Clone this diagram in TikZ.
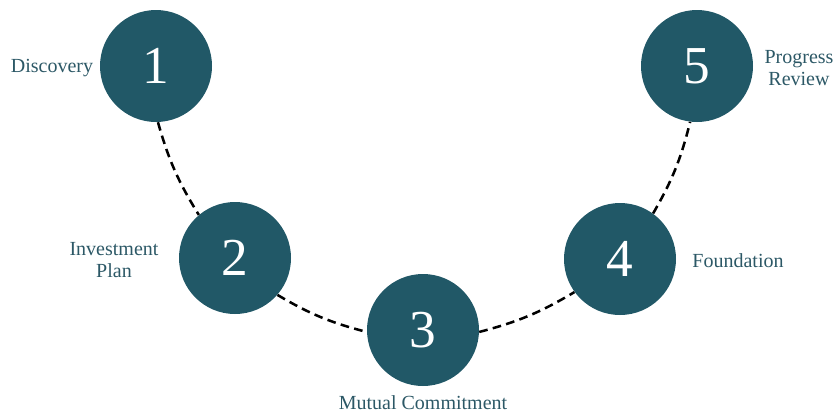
\documentclass[tikz,border=0pt]{standalone}
\usepackage{fontspec}
\setmainfont{Liberation Serif}
\definecolor{stepteal}{RGB}{33,88,103}
\definecolor{labelteal}{RGB}{44,88,102}
\begin{document}
\begin{tikzpicture}[x=0.75pt,y=-0.75pt,
  stepcircle/.style={circle,fill=stepteal,minimum size=84pt,inner sep=0pt,
    text=white,font=\fontsize{40}{40}\selectfont},
  steplabel/.style={text=labelteal,font=\fontsize{15}{16.5}\selectfont,align=center,inner sep=0pt},
  link/.style={dash pattern=on 6.5pt off 4pt,line width=1.9pt,black}]
  \useasboundingbox (0,0) rectangle (835,415);
  % the five steps
  \node[stepcircle] (n1) at (156,66) {1};
  \node[stepcircle] (n2) at (235,258) {2};
  \node[stepcircle] (n3) at (423,330) {3};
  \node[stepcircle] (n4) at (620,259) {4};
  \node[stepcircle] (n5) at (697,66) {5};
  % dashed links between neighbouring steps
  \draw[link] (n1.-88) to[bend right=8] (n2.130);
  \draw[link] (n2.-41) to[bend right=8] (n3.182);
  \draw[link] (n3.-2) to[bend right=8] (n4.216);
  \draw[link] (n4.54) to[bend right=8] (n5.263);
  % step names
  \node[steplabel] (l1) at (52,68) {Discovery};
  \node[steplabel] (l2) at (114,260) {Investment\\Plan};
  \node[steplabel] (l3) at (423,403) {Mutual Commitment};
  \node[steplabel] (l4) at (738,261) {Foundation};
  \node[steplabel] (l5) at (799,68) {Progress\\Review};
\end{tikzpicture}
\end{document}
